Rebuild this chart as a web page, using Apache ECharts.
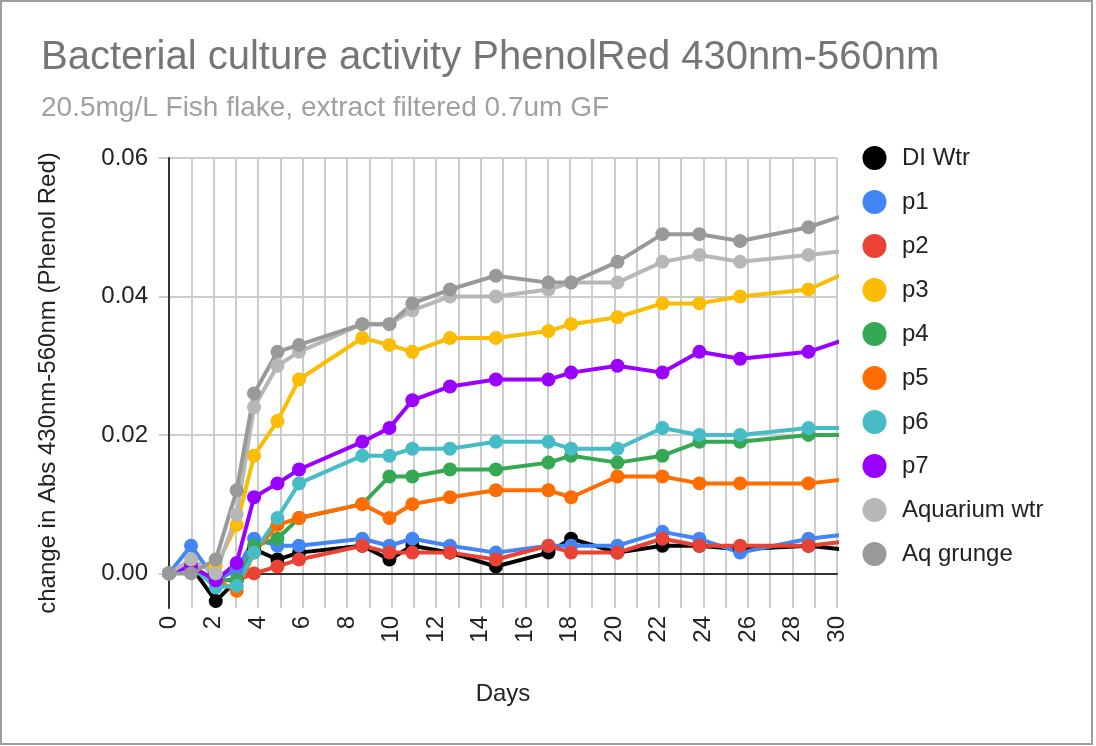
<!DOCTYPE html>
<html>
<head>
<meta charset="utf-8">
<script src="https://cdn.jsdelivr.net/npm/echarts@6/dist/echarts.min.js"></script>
<style>
  html, body { margin: 0; padding: 0; background: #fff; }
  #chart { position: absolute; left: 0; top: 0; width: 1096px; height: 746px; }
  #frame { position: absolute; left: 0; top: 0; width: 1093px; height: 745px; box-sizing: border-box;
           border: 2px solid #9e9e9e; pointer-events: none; }
</style>
</head>
<body>
<div id="chart"></div>
<div id="frame"></div>
<script>
// Day of each reading (last reading lies just past the visible right edge)
const days = [0, 0.99, 2.1, 3.04, 3.82, 4.87, 5.84, 8.68, 9.9, 10.93, 12.62, 14.68, 17.04, 18.06, 20.14, 22.16, 23.82, 25.65, 28.72, 31.5];

const seriesNames = ['DI Wtr', 'p1', 'p2', 'p3', 'p4', 'p5', 'p6', 'p7', 'Aquarium wtr', 'Aq grunge'];

const diWtr      = [0, 0.001, -0.004, -0.001, 0.0035, 0.002, 0.003, 0.004, 0.002, 0.004, 0.003, 0.001, 0.003, 0.005, 0.003, 0.004, 0.004, 0.0035, 0.004, 0.003];
const p1         = [0, 0.004, -0.001, 0.0005, 0.005, 0.004, 0.004, 0.005, 0.004, 0.005, 0.004, 0.003, 0.004, 0.004, 0.004, 0.006, 0.005, 0.003, 0.005, 0.006];
const p2         = [0, 0.001, -0.001, -0.001, 0.0, 0.001, 0.002, 0.004, 0.003, 0.003, 0.003, 0.002, 0.004, 0.003, 0.003, 0.005, 0.004, 0.004, 0.004, 0.005];
const p3         = [0, 0.001, 0.001, 0.007, 0.017, 0.022, 0.028, 0.034, 0.033, 0.032, 0.034, 0.034, 0.035, 0.036, 0.037, 0.039, 0.039, 0.040, 0.041, 0.045];
const p4         = [0, 0.001, -0.001, -0.001, 0.004, 0.005, 0.008, 0.010, 0.014, 0.014, 0.015, 0.015, 0.016, 0.017, 0.016, 0.017, 0.019, 0.019, 0.020, 0.020];
const p5         = [0, 0.001, -0.001, -0.0025, 0.003, 0.007, 0.008, 0.010, 0.008, 0.010, 0.011, 0.012, 0.012, 0.011, 0.014, 0.014, 0.013, 0.013, 0.013, 0.014];
const p6         = [0, 0.001, -0.002, -0.0018, 0.003, 0.008, 0.013, 0.017, 0.017, 0.018, 0.018, 0.019, 0.019, 0.018, 0.018, 0.021, 0.020, 0.020, 0.021, 0.021];
const p7         = [0, 0.001, -0.001, 0.0015, 0.011, 0.013, 0.015, 0.019, 0.021, 0.025, 0.027, 0.028, 0.028, 0.029, 0.030, 0.029, 0.032, 0.031, 0.032, 0.035];
const aquarium   = [0, 0.002, 0.0, 0.0085, 0.024, 0.030, 0.032, 0.036, 0.036, 0.038, 0.040, 0.040, 0.041, 0.042, 0.042, 0.045, 0.046, 0.045, 0.046, 0.047];
const aqGrunge   = [0, 0.0, 0.002, 0.012, 0.026, 0.032, 0.033, 0.036, 0.036, 0.039, 0.041, 0.043, 0.042, 0.042, 0.045, 0.049, 0.049, 0.048, 0.050, 0.053];

const seriesValues = [diWtr, p1, p2, p3, p4, p5, p6, p7, aquarium, aqGrunge];
const seriesColors = ['#000000', '#4285f4', '#ea4335', '#fbbc04', '#34a853', '#ff6d01', '#46bdc6', '#9900ff', '#b7b7b7', '#999999'];

const FONT = '"Liberation Sans", Arial, sans-serif';

const chart = echarts.init(document.getElementById('chart'), null, { renderer: 'canvas' });

const series = seriesNames.map((name, i) => ({
  name: name,
  type: 'line',
  xAxisIndex: 0,
  yAxisIndex: 0,
  data: days.map((d, j) => [d, seriesValues[i][j]]),
  symbol: 'circle',
  symbolSize: 14,
  showSymbol: true,
  clip: true,
  color: seriesColors[i],
  lineStyle: { width: 4, color: seriesColors[i] },
  itemStyle: { color: seriesColors[i] },
  emphasis: { disabled: true },
  z: 2
}));

chart.setOption({
  animation: false,
  backgroundColor: '#fff',
  textStyle: { fontFamily: FONT },
  title: {
    text: 'Bacterial culture activity PhenolRed 430nm-560nm',
    subtext: '20.5mg/L Fish flake, extract filtered 0.7um GF',
    left: 41,
    top: 34,
    padding: 0,
    itemGap: 9,
    textStyle: { fontFamily: FONT, fontSize: 40, fontWeight: 'normal', color: '#757575', lineHeight: 48 },
    subtextStyle: { fontFamily: FONT, fontSize: 28, color: '#a0a0a0', lineHeight: 34 }
  },
  legend: {
    data: seriesNames,
    orient: 'vertical',
    left: 862.5,
    top: 146,
    padding: 0,
    icon: 'circle',
    itemWidth: 45,
    itemHeight: 24,
    itemGap: 20,
    selectedMode: false,
    textStyle: { fontFamily: FONT, fontSize: 24, color: '#222' }
  },
  grid: [
    { left: 169, right: 259, top: 158, bottom: 138 },
    { left: 169, right: 259, top: 158, bottom: 172.6 }
  ],
  xAxis: [
    {
      type: 'value', gridIndex: 0, min: 0, max: 30, interval: 2,
      axisLine: { show: false },
      axisTick: { show: false },
      minorTick: { show: true, splitNumber: 2, length: 0, lineStyle: { width: 0 } },
      minorSplitLine: { show: true, lineStyle: { color: '#cccccc', width: 2 } },
      splitLine: { show: true, lineStyle: { color: '#cccccc', width: 2 } },
      axisLabel: { rotate: 90, margin: 8, fontFamily: FONT, fontSize: 24, color: '#222' },
      name: 'Days', nameLocation: 'middle', nameGap: 74,
      nameTextStyle: { fontFamily: FONT, fontSize: 24, color: '#222' }
    },
    {
      type: 'value', gridIndex: 1, min: 0, max: 30, z: 1,
      axisLine: { show: true, lineStyle: { color: '#333', width: 2 } },
      axisTick: { show: false }, axisLabel: { show: false }, splitLine: { show: false }
    }
  ],
  yAxis: [
    {
      type: 'value', gridIndex: 0, min: -0.005, max: 0.06, z: 1,
      axisLine: { show: true, lineStyle: { color: '#333', width: 2 } },
      axisTick: { show: false }, axisLabel: { show: false }, splitLine: { show: false },
      name: 'change in Abs 430nm-560nm (Phenol Red)', nameLocation: 'middle', nameGap: 109,
      nameTextStyle: { fontFamily: FONT, fontSize: 24, color: '#222' }
    },
    {
      type: 'value', gridIndex: 1, min: 0, max: 0.06, interval: 0.02,
      axisLine: { show: false },
      axisTick: { show: true, length: 10, lineStyle: { color: '#cccccc', width: 2 } },
      splitLine: { show: true, lineStyle: { color: '#cccccc', width: 2 } },
      axisLabel: { margin: 21, fontFamily: FONT, fontSize: 24, color: '#222', formatter: v => v.toFixed(2) }
    }
  ],
  series: series
});
</script>
</body>
</html>
